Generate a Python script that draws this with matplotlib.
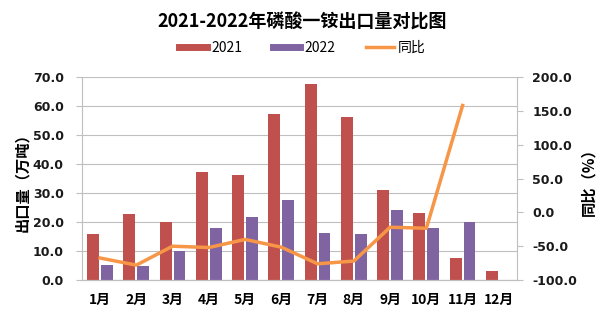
import numpy as np
import matplotlib
matplotlib.use("Agg")
import matplotlib.pyplot as plt
from matplotlib.lines import Line2D

plt.rcParams['font.family'] = ['Noto Sans CJK SC', 'DejaVu Sans']

MONTHS = [f"{i}月" for i in range(1, 13)]
EXPORT_2021 = [16.0, 22.6, 20.1, 37.3, 36.3, 57.3, 67.6, 56.2, 31.2, 23.2, 7.7, 3.0]
EXPORT_2022 = [5.2, 5.0, 10.1, 18.0, 21.9, 27.7, 16.1, 15.7, 24.3, 17.9, 19.9, np.nan]
YOY = [-67.5, -78.0, -50.0, -52.0, -40.0, -51.5, -76.0, -72.0, -22.0, -23.5, 158.0]

C21 = "#C0504D"
C22 = "#8064A2"
CLINE = "#F79646"
GRID = "#BFBFBF"

fig = plt.figure(figsize=(6.05, 3.21), dpi=100)
ax = fig.add_axes([0.1355, 0.1277, 0.719, 0.6323])
ax2 = ax.twinx()

x = np.arange(len(MONTHS))
w = 0.33
ax.bar(x - 0.19, EXPORT_2021, width=w, color=C21, zorder=2)
ax.bar(x + 0.19, EXPORT_2022, width=w, color=C22, zorder=2)
ax2.plot(x[:len(YOY)], YOY, color=CLINE, linewidth=2.5, zorder=3)

ax.set_xlim(-0.5, 11.5)
ax.set_ylim(0, 70)
ax.set_yticks(np.arange(0, 71, 10))
ax.set_yticklabels([f"{v:.1f}" for v in np.arange(0, 71, 10)])
ax2.set_ylim(-100, 200)
ax2.set_yticks(np.arange(-100, 201, 50))
ax2.set_yticklabels([f"{v:.1f}" for v in np.arange(-100, 201, 50)])

ax.set_xticks(x)
ax.set_xticklabels(MONTHS, fontweight="bold", fontsize=10)
ax.yaxis.grid(True, color=GRID, linewidth=0.8, zorder=0)
ax.set_axisbelow(True)

for a in (ax, ax2):
    for s in a.spines.values():
        s.set_color(GRID)
    a.spines["top"].set_visible(False)
    for lab in a.get_yticklabels():
        lab.set_fontweight("bold")
        lab.set_fontsize(9)
        lab.set_family(["DejaVu Sans"])
        lab.set_color("#1a1a1a")
ax2.spines["left"].set_visible(False)
ax.spines["right"].set_visible(False)
ax.tick_params(axis="y", length=4, color=GRID, pad=9)
ax2.tick_params(axis="y", length=4, color=GRID, pad=7)
ax.tick_params(axis="x", length=0, pad=9)

ax.set_ylabel("出口量（万吨）", fontsize=11, fontweight="bold", labelpad=2)
ax2.set_ylabel("同比（%）", fontsize=11, fontweight="bold", rotation=90, labelpad=2)

fig.text(0.5, 0.93, "2021-2022年磷酸一铵出口量对比图", ha="center", va="center",
         fontsize=13, fontweight="bold")

handles = [Line2D([0], [0], color=C21, linewidth=5),
           Line2D([0], [0], color=C22, linewidth=5),
           Line2D([0], [0], color=CLINE, linewidth=2.5)]
fig.legend(handles, ["2021", "2022", "同比"], loc="center", ncol=3,
           bbox_to_anchor=(0.5, 0.85), frameon=False, fontsize=10,
           handlelength=2.0, columnspacing=2.2, handletextpad=0.3)

fig.savefig("out.png", dpi=100)
